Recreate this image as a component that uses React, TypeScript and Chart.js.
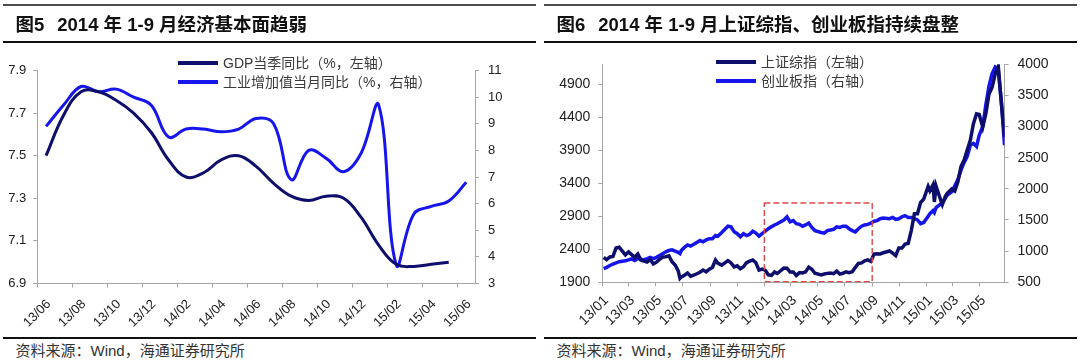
import React, { useEffect, useRef } from 'react';
import { Chart, registerables } from 'chart.js';

Chart.register(...registerables);

// ---------------- Figure 5 data ----------------
const fig5Title = ['图5', '2014 年 1-9 月经济基本面趋弱'];
const fig5Series = ['GDP当季同比（%，左轴）', '工业增加值当月同比（%，右轴）'];
const fig5Months = ['13/06', '13/07', '13/08', '13/09', '13/10', '13/11', '13/12', '14/01', '14/02', '14/03', '14/04', '14/05', '14/06', '14/07', '14/08', '14/09', '14/10', '14/11', '14/12', '15/01', '15/02', '15/03', '15/04', '15/05', '15/06'];
const fig5TickLabels = ['13/06', '13/08', '13/10', '13/12', '14/02', '14/04', '14/06', '14/08', '14/10', '14/12', '15/02', '15/04', '15/06'];
const gdpYoY = [7.5, 7.69, 7.8, 7.8, 7.76, 7.7, 7.61, 7.48, 7.4, 7.42, 7.48, 7.5, 7.45, 7.37, 7.31, 7.29, 7.31, 7.3, 7.21, 7.08, 6.99, 6.98, 6.99, 7.0];
const ivaYoY = [8.9, 9.7, 10.4, 10.2, 10.3, 10.0, 9.7, 8.5, 8.8, 8.8, 8.7, 8.8, 9.2, 9.0, 6.9, 8.0, 7.7, 7.2, 7.9, 9.7, 3.7, 5.6, 5.9, 6.1, 6.8];
const fig5LeftTicks = [6.9, 7.1, 7.3, 7.5, 7.7, 7.9];
const fig5RightTicks = [3, 4, 5, 6, 7, 8, 9, 10, 11];

// ---------------- Figure 6 data ----------------
const fig6Title = ['图6', '2014 年 1-9 月上证综指、创业板指持续盘整'];
const fig6Series = ['上证综指（左轴）', '创业板指（右轴）'];
const fig6TickLabels = ['13/01', '13/03', '13/05', '13/07', '13/09', '13/11', '14/01', '14/03', '14/05', '14/07', '14/09', '14/11', '15/01', '15/03', '15/05'];
const fig6LeftTicks = [1900, 2400, 2900, 3400, 3900, 4400, 4900];
const fig6RightTicks = [500, 1000, 1500, 2000, 2500, 3000, 3500, 4000];
const weekDates = [
  '2013-01-04', '2013-01-11', '2013-01-18', '2013-01-25',
  '2013-02-01', '2013-02-08', '2013-02-22',
  '2013-03-01', '2013-03-08', '2013-03-15', '2013-03-22', '2013-03-29',
  '2013-04-03', '2013-04-12', '2013-04-19', '2013-04-26',
  '2013-05-03', '2013-05-10', '2013-05-17', '2013-05-24', '2013-05-31',
  '2013-06-07', '2013-06-14', '2013-06-21', '2013-06-25', '2013-06-28',
  '2013-07-05', '2013-07-12', '2013-07-19', '2013-07-26',
  '2013-08-02', '2013-08-09', '2013-08-16', '2013-08-23', '2013-08-30',
  '2013-09-06', '2013-09-13', '2013-09-18', '2013-09-27',
  '2013-10-11', '2013-10-18', '2013-10-25',
  '2013-11-01', '2013-11-08', '2013-11-15', '2013-11-22', '2013-11-29',
  '2013-12-06', '2013-12-13', '2013-12-20', '2013-12-27',
  '2014-01-03', '2014-01-10', '2014-01-17', '2014-01-24', '2014-01-30',
  '2014-02-14', '2014-02-21', '2014-02-28',
  '2014-03-07', '2014-03-14', '2014-03-21', '2014-03-28',
  '2014-04-04', '2014-04-11', '2014-04-18', '2014-04-25',
  '2014-05-09', '2014-05-16', '2014-05-23', '2014-05-30',
  '2014-06-06', '2014-06-13', '2014-06-20', '2014-06-27',
  '2014-07-04', '2014-07-11', '2014-07-18', '2014-07-25',
  '2014-08-01', '2014-08-08', '2014-08-15', '2014-08-22', '2014-08-29',
  '2014-09-05', '2014-09-12', '2014-09-19', '2014-09-26',
  '2014-10-10', '2014-10-17', '2014-10-24', '2014-10-31',
  '2014-11-07', '2014-11-14', '2014-11-21', '2014-11-28',
  '2014-12-05', '2014-12-12', '2014-12-19', '2014-12-26',
  '2015-01-05', '2015-01-09', '2015-01-16', '2015-01-19', '2015-01-23', '2015-01-30',
  '2015-02-06', '2015-02-13', '2015-02-17', '2015-02-27',
  '2015-03-06', '2015-03-13', '2015-03-20', '2015-03-27',
  '2015-04-03', '2015-04-10', '2015-04-17', '2015-04-24', '2015-04-30',
  '2015-05-08', '2015-05-15', '2015-05-22', '2015-05-29',
  '2015-06-05', '2015-06-12', '2015-06-19', '2015-06-26',
];
const shComposite = [
  2276, 2243, 2284, 2291,
  2419, 2432, 2314,
  2359, 2319, 2278, 2328, 2237,
  2225, 2206, 2245, 2177,
  2205, 2246, 2282, 2288, 2301,
  2210, 2162, 2073, 1959, 1979,
  2007, 2039, 1992, 2010,
  2029, 2052, 2085, 2057, 2098,
  2124, 2236, 2191, 2160,
  2228, 2193, 2133,
  2149, 2106, 2136, 2197, 2220,
  2237, 2196, 2085, 2101,
  2083, 2013, 2004, 2055, 2033,
  2115, 2113, 2056,
  2057, 2004, 2047, 2041,
  2058, 2130, 2097, 2036,
  2011, 2026, 2035, 2039,
  2030, 2070, 2024, 2036,
  2059, 2047, 2060, 2126,
  2185, 2194, 2226, 2240, 2217,
  2326, 2331, 2329, 2347,
  2374, 2341, 2302, 2420,
  2418, 2478, 2487, 2683,
  2938, 2938, 3108, 3158,
  3351, 3285, 3376, 3116, 3351, 3210,
  3076, 3204, 3247, 3311,
  3280, 3420, 3650, 3750,
  3900, 4050, 4300, 4450, 4440,
  4250, 4450, 4750, 4850,
  5050, 5170, 4600, 4100,
];
const chiNext = [
  720, 740, 770, 790,
  810, 830, 845,
  860, 875, 850, 880, 870,
  860, 880, 900, 880,
  900, 930, 960, 990, 1010,
  1020, 1000, 980, 960, 1010,
  1060, 1100, 1080, 1110,
  1140, 1170, 1150, 1180, 1200,
  1200, 1250, 1240, 1300,
  1400, 1390, 1310,
  1280, 1230, 1280, 1250, 1270,
  1320, 1290, 1240, 1280,
  1320, 1360, 1390, 1420, 1440,
  1500, 1550, 1470,
  1490, 1440, 1430, 1400,
  1420, 1450, 1380, 1330,
  1300, 1290, 1330, 1340,
  1350, 1390, 1380, 1400,
  1400, 1360, 1330, 1310,
  1360, 1400, 1420, 1430, 1450,
  1480, 1490, 1520, 1530,
  1520, 1540, 1510, 1520,
  1550, 1570, 1540, 1540,
  1520, 1500, 1440, 1460,
  1560, 1600, 1650, 1620, 1700, 1740,
  1780, 1850, 1900, 1950,
  2050, 2150, 2300, 2420,
  2520, 2700, 2730, 2680, 2860,
  3000, 3350, 3650, 3850,
  3950, 3900, 3400, 2700,
];
const boxDates = ['2014-01-01', '2014-09-01'];
const boxValues = [1910, 3100];

const sourceText = '资料来源：Wind，海通证券研究所';

// ---------------- styles ----------------
const DARK = '#0e0e6c';
const BRIGHT = '#1515ec';
const AXIS_COLOR = '#a6a6a6';
const TICK_COLOR = '#222222';
const FONT = '"Liberation Sans", Arial, "Noto Sans CJK SC", sans-serif';
const CJK_FONT = '"Liberation Sans", "Noto Sans CJK SC", sans-serif';

const dayOf = (s: string) =>
  (Date.UTC(+s.slice(0, 4), +s.slice(5, 7) - 1, +s.slice(8, 10)) - Date.UTC(2013, 0, 1)) / 86400000;
const tickDay = (l: string) => dayOf(`20${l.slice(0, 2)}-${l.slice(3, 5)}-01`);

const gridOpts = { drawOnChartArea: false, drawTicks: true, tickLength: 4, color: AXIS_COLOR, lineWidth: 1 };
const borderOpts = { display: true, color: AXIS_COLOR, width: 1 };
const tickFont5 = { family: FONT, size: 13 };
const tickFont6 = { family: FONT, size: 14 };

const boxPlugin = {
  id: 'dashBox',
  afterDatasetsDraw(chart: any) {
    const { ctx, scales } = chart;
    const x1 = scales.x.getPixelForValue(dayOf(boxDates[0]));
    const x2 = scales.x.getPixelForValue(dayOf(boxDates[1]));
    const y1 = scales.yL.getPixelForValue(boxValues[1]);
    const y2 = scales.yL.getPixelForValue(boxValues[0]);
    ctx.save();
    ctx.strokeStyle = '#e04848';
    ctx.lineWidth = 1.4;
    ctx.setLineDash([6, 3]);
    ctx.strokeRect(x1, y1, x2 - x1, y2 - y1);
    ctx.restore();
  },
};

function Fig5Chart() {
  const ref = useRef<HTMLCanvasElement>(null);
  useEffect(() => {
    const chart = new Chart(ref.current as HTMLCanvasElement, {
      type: 'line',
      data: {
        datasets: [
          {
            label: fig5Series[0],
            data: gdpYoY.map((v, i) => ({ x: i + 0.5, y: v })),
            yAxisID: 'yL',
            borderColor: DARK,
            backgroundColor: DARK,
            borderWidth: 3,
            pointRadius: 0,
            tension: 0.4,
          },
          {
            label: fig5Series[1],
            data: ivaYoY.map((v, i) => ({ x: i + 0.5, y: v })),
            yAxisID: 'yR',
            borderColor: BRIGHT,
            backgroundColor: BRIGHT,
            borderWidth: 3,
            pointRadius: 0,
            tension: 0.4,
          },
        ],
      },
      options: {
        responsive: false,
        animation: false,
        devicePixelRatio: 1,
        layout: { padding: { top: 70.5, left: 0, right: 0, bottom: 0 } },
        plugins: { legend: { display: false }, tooltip: { enabled: false } },
        scales: {
          x: {
            type: 'linear',
            min: 0,
            max: fig5Months.length,
            afterBuildTicks: (a: any) => {
              a.ticks = fig5TickLabels.map((l) => ({ value: fig5Months.indexOf(l) }));
            },
            afterFit: (a: any) => {
              a.height = 52.5;
            },
            grid: gridOpts,
            border: borderOpts,
            ticks: {
              autoSkip: false,
              minRotation: 45,
              maxRotation: 45,
              labelOffset: 11.5,
              padding: 9,
              color: TICK_COLOR,
              font: tickFont5,
              callback: (v: any) => fig5Months[v],
            },
          },
          yL: {
            type: 'linear',
            position: 'left',
            min: fig5LeftTicks[0],
            max: fig5LeftTicks[fig5LeftTicks.length - 1],
            afterBuildTicks: (a: any) => {
              a.ticks = fig5LeftTicks.map((v) => ({ value: v }));
            },
            afterFit: (a: any) => {
              a.width = 37.3;
            },
            grid: gridOpts,
            border: borderOpts,
            ticks: { padding: 7, color: TICK_COLOR, font: tickFont5, callback: (v: any) => Number(v).toFixed(1) },
          },
          yR: {
            type: 'linear',
            position: 'right',
            min: fig5RightTicks[0],
            max: fig5RightTicks[fig5RightTicks.length - 1],
            afterBuildTicks: (a: any) => {
              a.ticks = fig5RightTicks.map((v) => ({ value: v }));
            },
            afterFit: (a: any) => {
              a.width = 65;
            },
            grid: gridOpts,
            border: borderOpts,
            ticks: { padding: 9, color: TICK_COLOR, font: tickFont5, callback: (v: any) => String(v) },
          },
        },
      },
    } as any);
    return () => chart.destroy();
  }, []);
  return <canvas ref={ref} width={540} height={336} style={{ position: 'absolute', left: 0, top: 0, width: 540, height: 336 }} />;
}

function Fig6Chart() {
  const ref = useRef<HTMLCanvasElement>(null);
  useEffect(() => {
    const lastDay = dayOf(weekDates[weekDates.length - 1]);
    const chart = new Chart(ref.current as HTMLCanvasElement, {
      type: 'line',
      data: {
        datasets: [
          {
            label: fig6Series[0],
            data: shComposite.map((v, i) => ({ x: dayOf(weekDates[i]), y: v })),
            yAxisID: 'yL',
            borderColor: DARK,
            backgroundColor: DARK,
            borderWidth: 3.5,
            pointRadius: 0,
            tension: 0,
          },
          {
            label: fig6Series[1],
            data: chiNext.map((v, i) => ({ x: dayOf(weekDates[i]), y: v })),
            yAxisID: 'yR',
            borderColor: BRIGHT,
            backgroundColor: BRIGHT,
            borderWidth: 3.5,
            pointRadius: 0,
            tension: 0,
          },
        ],
      },
      options: {
        responsive: false,
        animation: false,
        devicePixelRatio: 1,
        layout: { padding: { top: 64.2, left: 0, right: 0, bottom: 0 } },
        plugins: { legend: { display: false }, tooltip: { enabled: false } },
        scales: {
          x: {
            type: 'linear',
            min: 0,
            max: lastDay,
            afterBuildTicks: (a: any) => {
              a.ticks = fig6TickLabels.map((l) => ({ value: tickDay(l) }));
            },
            afterFit: (a: any) => {
              a.height = 53.7;
            },
            grid: gridOpts,
            border: borderOpts,
            ticks: {
              autoSkip: false,
              minRotation: 45,
              maxRotation: 45,
              labelOffset: 4,
              padding: 6,
              color: TICK_COLOR,
              font: tickFont6,
              callback: (_v: any, i: number) => fig6TickLabels[i],
            },
          },
          yL: {
            type: 'linear',
            position: 'left',
            min: 1900,
            max: 5200,
            afterBuildTicks: (a: any) => {
              a.ticks = fig6LeftTicks.map((v) => ({ value: v }));
            },
            afterFit: (a: any) => {
              a.width = 62.3;
            },
            grid: gridOpts,
            border: borderOpts,
            ticks: { padding: 8, color: TICK_COLOR, font: tickFont6, callback: (v: any) => String(v) },
          },
          yR: {
            type: 'linear',
            position: 'right',
            min: fig6RightTicks[0],
            max: fig6RightTicks[fig6RightTicks.length - 1],
            afterBuildTicks: (a: any) => {
              a.ticks = fig6RightTicks.map((v) => ({ value: v }));
            },
            afterFit: (a: any) => {
              a.width = 75.5;
            },
            grid: gridOpts,
            border: borderOpts,
            ticks: { padding: 9, color: TICK_COLOR, font: tickFont6, callback: (v: any) => String(v) },
          },
        },
      },
      plugins: [boxPlugin],
    } as any);
    return () => chart.destroy();
  }, []);
  return <canvas ref={ref} width={540} height={336} style={{ position: 'absolute', left: 540, top: 0, width: 540, height: 336 }} />;
}

const abs = (s: React.CSSProperties): React.CSSProperties => ({ position: 'absolute', ...s });
const fullWidth: any = { textSpacingTrim: 'space-all' };

function Legend({ left, top, labels }: { left: number; top: number; labels: string[] }) {
  const colors = [DARK, BRIGHT];
  return (
    <>
      {labels.map((l, i) => (
        <React.Fragment key={l}>
          <div style={abs({ left, top: top + i * 19 - 1.75, width: 40, height: 3.5, background: colors[i] })} />
          <div
            style={abs({
              left: left + 45,
              top: top + i * 19 - 10,
              height: 20,
              lineHeight: '20px',
              fontSize: 14,
              color: '#3a3a3a',
              whiteSpace: 'nowrap',
              fontFamily: CJK_FONT,
              ...fullWidth,
            })}
          >
            {l}
          </div>
        </React.Fragment>
      ))}
    </>
  );
}

function Frame({ x0, x1, title, titleLeft }: { x0: number; x1: number; title: string[]; titleLeft: number }) {
  return (
    <>
      <div style={abs({ left: x0, top: 4, width: x1 - x0, height: 2, background: '#4d4d4d' })} />
      <div
        style={abs({
          left: titleLeft,
          top: 12,
          height: 26,
          lineHeight: '26px',
          fontSize: 18.5,
          fontWeight: 700,
          color: '#111',
          whiteSpace: 'nowrap',
          fontFamily: CJK_FONT,
          ...fullWidth,
        })}
      >
        <span>{title[0]}</span>
        <span style={{ marginLeft: 13 }}>{title[1]}</span>
      </div>
      <div style={abs({ left: x0, top: 41, width: x1 - x0, height: 1.5, background: '#111' })} />
      <div style={abs({ left: x0, top: 337, width: x1 - x0, height: 1.5, background: '#111' })} />
      <div
        style={abs({
          left: titleLeft,
          top: 341,
          height: 20,
          lineHeight: '20px',
          fontSize: 15,
          color: '#333',
          whiteSpace: 'nowrap',
          fontFamily: CJK_FONT,
          ...fullWidth,
        })}
      >
        {sourceText}
      </div>
    </>
  );
}

export default function App() {
  return (
    <div style={abs({ left: 0, top: 0, width: 1080, height: 362, background: '#fff', overflow: 'hidden' })}>
      <Fig5Chart />
      <Fig6Chart />
      <Frame x0={3} x1={536} title={fig5Title} titleLeft={15.5} />
      <Frame x0={544} x1={1077} title={fig6Title} titleLeft={556.5} />
      <Legend left={178} top={63} labels={fig5Series} />
      <Legend left={716} top={62} labels={fig6Series} />
    </div>
  );
}
